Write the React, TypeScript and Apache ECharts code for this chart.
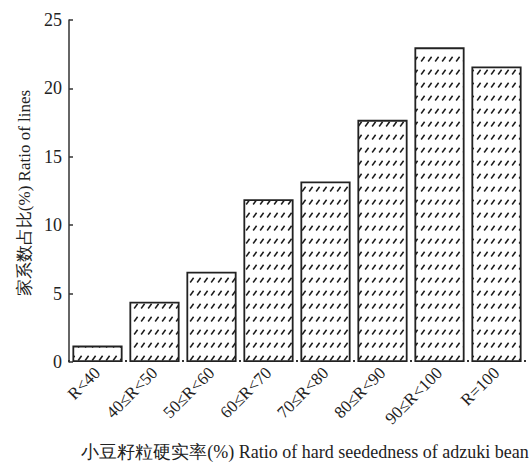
import React, { useEffect, useRef } from "react";
import * as echarts from "echarts";

const categories = ["R<40", "40≤R<50", "50≤R<60", "60≤R<70", "70≤R<80", "80≤R<90", "90≤R<100", "R=100"];
const ratioValues = [1.2, 4.4, 6.6, 11.9, 13.2, 17.7, 23.0, 21.6];
const yTicks = { min: 0, max: 25, interval: 5 };
const xTitle = "小豆籽粒硬实率(%) Ratio of hard seededness of adzuki bean";
const yTitle = "家系数占比(%) Ratio of lines";

const FONT = "Liberation Serif, serif";

function makeHatch(): HTMLCanvasElement {
  const c = document.createElement("canvas");
  c.width = 7;
  c.height = 13;
  const ctx = c.getContext("2d")!;
  ctx.fillStyle = "#ffffff";
  ctx.fillRect(0, 0, 7, 13);
  ctx.strokeStyle = "#1a1a1a";
  ctx.lineWidth = 1.5;
  ctx.beginPath();
  ctx.moveTo(1.2, 9.5);
  ctx.lineTo(4.6, 4.8);
  ctx.stroke();
  return c;
}

export default function App() {
  const ref = useRef<HTMLDivElement>(null);
  useEffect(() => {
    if (!ref.current) return;
    const chart = echarts.init(ref.current, null, { renderer: "svg" });
    const hatch = makeHatch();
    chart.setOption({
      animation: false,
      backgroundColor: "#ffffff",
      textStyle: { fontFamily: FONT },
      grid: { left: 69, right: 7, top: 20, bottom: 104 },
      xAxis: {
        type: "category",
        data: categories,
        axisLine: { show: false },
        axisTick: { show: true, inside: true, length: 2, lineStyle: { color: "#333", width: 2 } },
        axisLabel: { rotate: 45, fontFamily: FONT, fontSize: 17, color: "#222", margin: 8 },
        name: xTitle,
        nameLocation: "middle",
        nameGap: 81,
        nameTextStyle: { fontFamily: FONT, fontSize: 18, color: "#222", padding: [0, 0, 0, 16] },
      },
      yAxis: {
        type: "value",
        min: yTicks.min,
        max: yTicks.max,
        interval: yTicks.interval,
        splitLine: { show: false },
        axisLine: { show: true, lineStyle: { color: "#333", width: 1.5 } },
        axisTick: { show: true, inside: true, length: 4, lineStyle: { color: "#333", width: 1.5 } },
        axisLabel: { fontFamily: FONT, fontSize: 18, color: "#222", margin: 7 },
        name: yTitle,
        nameLocation: "middle",
        nameGap: 34,
        nameTextStyle: { fontFamily: FONT, fontSize: 17, color: "#222", padding: [0, 4, 0, 0] },
      },
      series: [
        {
          type: "bar",
          data: ratioValues,
          barCategoryGap: "12%",
          itemStyle: {
            color: { image: hatch, repeat: "repeat" } as any,
            borderColor: "#222",
            borderWidth: 1.8,
          },
        },
      ],
    });
    return () => chart.dispose();
  }, []);
  return (
    <div
      ref={ref}
      style={{ position: "absolute", left: 0, top: 0, width: 532, height: 466 }}
    />
  );
}
